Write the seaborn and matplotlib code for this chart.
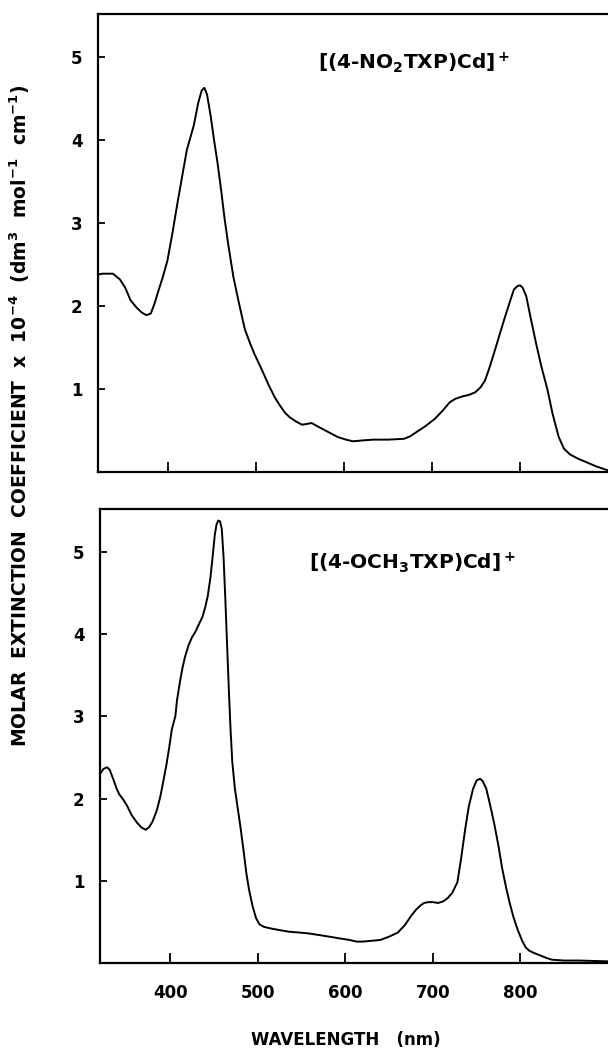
import numpy as np
import pandas as pd
import matplotlib
matplotlib.use("Agg")
import matplotlib.pyplot as plt
import seaborn as sns

# spectrum of [(4-NO2TXP)Cd]+
top_nm = [320, 325, 337, 345, 351, 357, 364, 370, 375, 380, 384, 388, 394, 399,
          405, 410, 416, 421, 429, 434, 438, 441, 444, 448, 452, 456, 460, 464,
          468, 474, 480, 487, 493, 498, 506, 514, 521, 527, 533, 538, 545, 552,
          558, 563, 568, 575, 584, 593, 602, 610, 620, 633, 650, 668, 675, 682,
          692, 703, 712, 720, 726, 734, 742, 749, 755, 760, 765, 770, 776, 782,
          788, 793, 797, 800, 803, 807, 812, 818, 824, 831, 837, 844, 850, 857,
          866, 875, 886, 897, 900]
top_eps = [2.38, 2.39, 2.39, 2.32, 2.22, 2.07, 1.98, 1.92, 1.89, 1.91, 2.02, 2.16,
           2.36, 2.55, 2.90, 3.22, 3.58, 3.88, 4.18, 4.45, 4.60, 4.63, 4.55, 4.30,
           4.00, 3.72, 3.40, 3.05, 2.75, 2.35, 2.05, 1.72, 1.55, 1.42, 1.24, 1.05,
           0.90, 0.80, 0.71, 0.66, 0.61, 0.57, 0.58, 0.59, 0.56, 0.52, 0.47, 0.42,
           0.39, 0.37, 0.38, 0.39, 0.39, 0.40, 0.43, 0.48, 0.55, 0.64, 0.74, 0.84,
           0.88, 0.91, 0.93, 0.96, 1.02, 1.10, 1.25, 1.42, 1.63, 1.84, 2.04, 2.20,
           2.24, 2.25, 2.22, 2.12, 1.86, 1.56, 1.28, 1.00, 0.70, 0.42, 0.28, 0.21,
           0.16, 0.12, 0.07, 0.03, 0.02]

# spectrum of [(4-OCH3TXP)Cd]+
bot_nm = [320, 324, 328, 331, 335, 339, 342, 347, 351, 356, 362, 367, 372, 376,
          380, 385, 389, 393, 396, 399, 402, 406, 408, 411, 414, 417, 421, 425,
          429, 433, 437, 440, 443, 446, 449, 451, 453, 455, 457, 459, 461, 463,
          465, 467, 469, 471, 474, 477, 480, 484, 487, 490, 494, 498, 502, 507,
          515, 525, 536, 548, 558, 570, 582, 593, 605, 613, 620, 630, 640, 650,
          660, 668, 675, 681, 686, 690, 695, 700, 706, 712, 717, 722, 728, 732,
          737, 741, 746, 750, 754, 757, 761, 765, 770, 775, 779, 784, 788, 792,
          797, 802, 806, 810, 816, 823, 830, 836, 850, 867, 900]
bot_eps = [2.30, 2.36, 2.38, 2.35, 2.24, 2.12, 2.05, 1.98, 1.91, 1.80, 1.71, 1.65,
           1.62, 1.65, 1.72, 1.86, 2.03, 2.25, 2.42, 2.62, 2.84, 3.00, 3.20, 3.40,
           3.58, 3.72, 3.86, 3.96, 4.03, 4.12, 4.21, 4.32, 4.46, 4.68, 4.98, 5.20,
           5.33, 5.38, 5.37, 5.28, 4.95, 4.45, 3.90, 3.35, 2.85, 2.45, 2.12, 1.90,
           1.68, 1.36, 1.10, 0.90, 0.70, 0.55, 0.47, 0.44, 0.42, 0.40, 0.38, 0.37,
           0.36, 0.34, 0.32, 0.30, 0.28, 0.26, 0.26, 0.27, 0.28, 0.32, 0.37, 0.46,
           0.57, 0.65, 0.70, 0.73, 0.74, 0.74, 0.73, 0.75, 0.79, 0.85, 0.98, 1.25,
           1.63, 1.90, 2.12, 2.22, 2.24, 2.21, 2.12, 1.94, 1.70, 1.42, 1.16, 0.90,
           0.72, 0.56, 0.40, 0.27, 0.19, 0.15, 0.12, 0.09, 0.06, 0.04, 0.03, 0.03,
           0.02]

compounds = [r"[(4-NO$_2$TXP)Cd]$^+$", r"[(4-OCH$_3$TXP)Cd]$^+$"]
x_ticks = [400, 500, 600, 700, 800]
y_ticks = [1, 2, 3, 4, 5]

sns.set_style("ticks")
plt.rcParams["font.family"] = ["DejaVu Sans"]
plt.rcParams["font.weight"] = "bold"
plt.rcParams["text.color"] = "black"
plt.rcParams["mathtext.fontset"] = "dejavusans"
plt.rcParams["mathtext.default"] = "bf"

fig = plt.figure(figsize=(6.08, 10.48), dpi=100)
W, H = 608, 1048
ax1 = fig.add_axes([98 / W, 1 - 472 / H, 1 - 98 / W, (472 - 14) / H])
ax2 = fig.add_axes([100 / W, 1 - 963 / H, 1 - 100 / W, (963 - 509) / H])

spectra = [(top_nm, top_eps), (bot_nm, bot_eps)]
label_pos = [(0.431, 0.893), (0.412, 0.881)]

for ax, (nm, eps), name, pos in zip([ax1, ax2], spectra, compounds, label_pos):
    df = pd.DataFrame({"nm": nm, "eps": eps})
    sns.lineplot(data=df, x="nm", y="eps", ax=ax, color="black", lw=1.4,
                 sort=False, estimator=None)
    ax.set_xlim(320, 900)
    ax.set_ylim(0, 5.52)
    ax.set_xticks(x_ticks)
    ax.set_yticks(y_ticks)
    ax.set_xlabel("")
    ax.set_ylabel("")
    ax.spines["right"].set_visible(False)
    for s in ["left", "top", "bottom"]:
        ax.spines[s].set_linewidth(1.6)
        ax.spines[s].set_color("black")
    ax.tick_params(axis="x", direction="in", length=7, width=1.3, pad=15,
                   labelsize=12, colors="black")
    ax.tick_params(axis="y", direction="in", length=5, width=1.3, pad=11,
                   labelsize=12, colors="black")
    ax.text(pos[0], pos[1], name, transform=ax.transAxes, ha="left",
            va="center", fontsize=14.5, fontweight="bold", color="black")

ax1.set_xticklabels([])

fig.text(346 / W, 1 - 1040 / H, "WAVELENGTH   (nm)", ha="center", va="center",
         fontsize=12, fontweight="bold", color="black")
fig.text(20 / W, 1 - 416 / H,
         r"MOLAR  EXTINCTION  COEFFICIENT  x  10$^{-4}$  "
         r"(dm$^3$  mol$^{-1}$  cm$^{-1}$)",
         rotation=90, ha="center", va="center", fontsize=13.5,
         fontweight="bold", color="black")

fig.savefig("out.png", dpi=100, facecolor="white")
